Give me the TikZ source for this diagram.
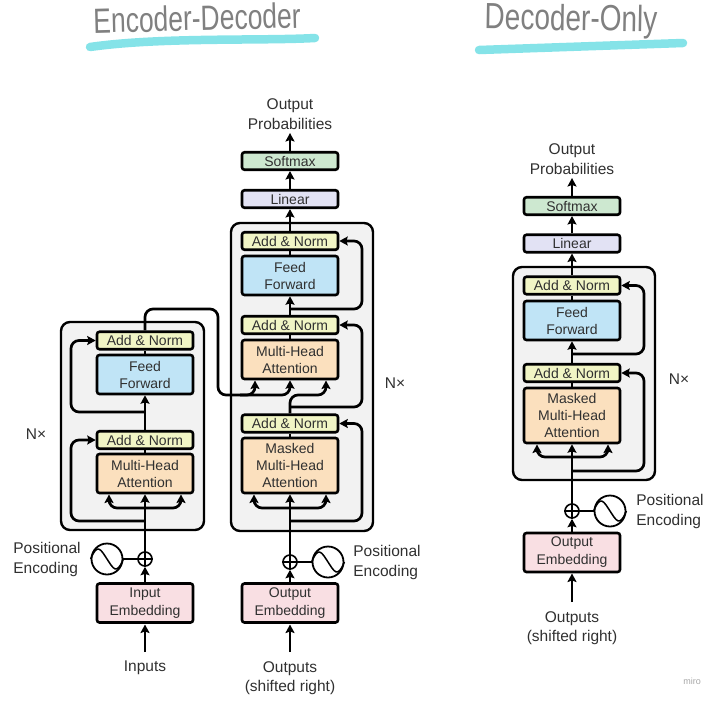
\documentclass[tikz,border=0pt]{standalone}
\usepackage{fontspec}
\setmainfont{Liberation Sans}
\usetikzlibrary{arrows.meta}
\definecolor{cAdd}{HTML}{F1F5C5}
\definecolor{cFF}{HTML}{C0E4F6}
\definecolor{cAtt}{HTML}{FBE0BE}
\definecolor{cEmb}{HTML}{F9DFE3}
\definecolor{cLin}{HTML}{E2E2F4}
\definecolor{cSoft}{HTML}{CDE8D0}
\definecolor{cBlock}{HTML}{F2F2F2}
\definecolor{cInk}{HTML}{303030}
\definecolor{cCyan}{HTML}{85E3E8}
\definecolor{cHand}{HTML}{808080}
\tikzset{
  x=1pt,y=-1pt,
  block/.style={draw=black,fill=cBlock,line width=2.4pt,rounded corners=9pt,inner sep=0pt},
  box/.style={draw=black,line width=2.6pt,rounded corners=2.5pt,minimum width=96pt,inner sep=0pt,
    text=cInk,align=center,font=\fontsize{14}{17}\selectfont},
  addn/.style={box,fill=cAdd,minimum height=17.5pt},
  ffw/.style={box,fill=cFF,minimum height=39pt},
  att/.style={box,fill=cAtt,minimum height=39pt},
  matt/.style={box,fill=cAtt,minimum height=55pt},
  emb/.style={box,fill=cEmb,minimum height=39pt,font=\fontsize{14}{18}\selectfont},
  lin/.style={box,fill=cLin,minimum height=17.5pt},
  soft/.style={box,fill=cSoft,minimum height=17.5pt},
  lab/.style={text=cInk,align=center,inner sep=0pt,font=\fontsize{15.5}{19.5}\selectfont},
  labl/.style={text=cInk,align=left,inner sep=0pt,font=\fontsize{15.5}{20}\selectfont},
  nx/.style={text=cInk,inner sep=0pt,font=\fontsize{15.5}{19}\selectfont},
  sinec/.style={circle,draw=black,line width=1.8pt,minimum size=31pt,inner sep=0pt},
  plusc/.style={circle,draw=black,line width=1.6pt,minimum size=14pt,inner sep=0pt},
  conn/.style={draw=black,line width=2.7pt},
  arr/.style={conn,-{Stealth[length=8.5pt,width=9pt,inset=1.5pt]}},
  res/.style={rounded corners=8pt},
  under/.style={draw=cCyan,line width=8.5pt,line cap=round},
  hand/.style={text=cHand,inner sep=0pt},
}
\newcommand{\sinewave}[1]{\draw[line width=1.5pt] (#1.west) .. controls +(7,-17) and +(-6,-9) .. (#1.center) .. controls +(6,9) and +(-7,17) .. (#1.east);}
\newcommand{\pluscross}[1]{\draw[line width=1.2pt] (#1.north) -- (#1.south) (#1.west) -- (#1.east);}
\begin{document}
\begin{tikzpicture}
\useasboundingbox (0,0) rectangle (720,702);
% titles
\node[hand,rotate=1.5] (t1) at (197,18) {\fontsize{27}{27}\selectfont\scalebox{0.98}[1.3]{Encoder-Decoder}};
\node[hand,rotate=-1] (t2) at (571,21) {\fontsize{28}{28}\selectfont\scalebox{1}[1.3]{Decoder-Only}};
\coordinate (u1a) at (90,47); \coordinate (u1b) at (160,37); \coordinate (u1c) at (260,41); \coordinate (u1d) at (315,38);
\draw[under] (u1a) .. controls (u1b) and (u1c) .. (u1d);
\coordinate (u2a) at (479,50); \coordinate (u2b) at (683,43);
\draw[under] (u2a) -- (u2b);
\node[text=black!35,inner sep=0pt,font=\fontsize{9}{9}\selectfont] (miro) at (692,681) {miro};

% blocks
\node[block,minimum width=143pt,minimum height=208pt] (eb) at (132.5,426) {};
\node[block,minimum width=142pt,minimum height=308pt] (db) at (302,377) {};
\node[block,minimum width=142pt,minimum height=213pt] (ob) at (584,373.5) {};

% encoder
\node[addn] (ea2) at (145,340.5) {Add \& Norm};
\node[ffw] (eff) at (145,374.5) {Feed\\Forward};
\node[addn] (ea1) at (145,440) {Add \& Norm};
\node[att] (eat) at (145,473.5) {Multi-Head\\Attention};
\node[plusc] (ep) at (145,559) {};
\node[sinec] (es) at (107,559) {};
\node[emb] (eem) at (145,603) {Input\\Embedding};
\node[lab] (ein) at (145,668) {Inputs};
\node[labl] (epe) at (47,559) {Positional\\Encoding};
\node[nx] (enx) at (36,434) {N×};

% decoder
\node[addn] (da3) at (290,241) {Add \& Norm};
\node[ffw] (dff) at (290,275.5) {Feed\\Forward};
\node[addn] (da2) at (290,325) {Add \& Norm};
\node[att] (dat) at (290,359.5) {Multi-Head\\Attention};
\node[addn] (da1) at (290,423.5) {Add \& Norm};
\node[matt] (dma) at (290,465.5) {Masked\\Multi-Head\\Attention};
\node[lin] (dli) at (290,199) {Linear};
\node[soft] (dso) at (290,161) {Softmax};
\node[lab] (dout) at (290,114) {Output\\Probabilities};
\node[plusc] (dp) at (290,562) {};
\node[sinec] (ds) at (328,562) {};
\node[emb] (dem) at (290,603) {Output\\Embedding};
\node[lab] (din) at (290,678) {Outputs\\(shifted right)};
\node[labl] (dpe) at (387,562.5) {Positional\\Encoding};
\node[nx] (dnx) at (395,383) {N×};

% decoder-only
\node[addn] (oa2) at (572,285.5) {Add \& Norm};
\node[ffw] (off) at (572,320.5) {Feed\\Forward};
\node[addn] (oa1) at (572,373) {Add \& Norm};
\node[matt] (oma) at (572,415.5) {Masked\\Multi-Head\\Attention};
\node[lin] (oli) at (572,243.5) {Linear};
\node[soft] (oso) at (572,206) {Softmax};
\node[lab] (oout) at (572,159) {Output\\Probabilities};
\node[plusc] (op) at (572,511) {};
\node[sinec] (os) at (610,511) {};
\node[emb] (oem) at (572,552.5) {Output\\Embedding};
\node[lab] (oin) at (572,628) {Outputs\\(shifted right)};
\node[labl] (ope) at (670,511.5) {Positional\\Encoding};
\node[nx] (onx) at (679,379) {N×};

% sine waves and plus signs
\sinewave{es}\sinewave{ds}\sinewave{os}
\pluscross{ep}\pluscross{dp}\pluscross{op}

% --- encoder connectors
\coordinate (einf) at (145,652); \coordinate (eint) at (145,624.5);
\draw[arr] (einf) -- (eint);
\draw[arr] (eem.north) -- (ep.south);
\draw[conn] (es.east) -- (ep.west);
\draw[arr] (ep.north) -- (eat.south);
\draw[conn] (eat.north) -- (ea1.south);
\draw[arr] (ea1.north) -- (eff.south);
\draw[conn] (eff.north) -- (ea2.south);
\coordinate (er1) at (145,521); \coordinate (er1c) at (71,521);
\draw[arr,res] (er1) -- (er1c) |- (ea1.west);
\coordinate (er2) at (145,412); \coordinate (er2c) at (71,412);
\draw[arr,res] (er2) -- (er2c) |- (ea2.west);
\coordinate (ef) at (145,508); \coordinate (efl) at (109,494.5); \coordinate (efr) at (181,494.5);
\draw[arr,res] (ef) -| (efl);
\draw[arr,res] (ef) -| (efr);
% encoder to decoder
\coordinate (x1) at (145,309); \coordinate (x2) at (218,309); \coordinate (x3) at (218,395);
\coordinate (x4) at (290,395); \coordinate (x5) at (255,395); \coordinate (x5b) at (240,395);
\coordinate (x6) at (255,380.5); \coordinate (x7) at (326,380.5);
\draw[arr,res] (ea2.north) -- (x1) -- (x2) -- (x3) -- (x4) -- (dat.south);
\draw[arr,res] (x5b) -- (x5) -- (x6);
\draw[arr,res] (da1.north) -- (x4) -| (x7);

% --- decoder connectors
\coordinate (dinf) at (290,652); \coordinate (dint) at (290,624.5);
\draw[arr] (dinf) -- (dint);
\draw[arr] (dem.north) -- (dp.south);
\draw[conn] (ds.west) -- (dp.east);
\draw[arr] (dp.north) -- (dma.south);
\draw[conn] (dma.north) -- (da1.south);
\draw[conn] (dat.north) -- (da2.south);
\draw[arr] (da2.north) -- (dff.south);
\draw[conn] (dff.north) -- (da3.south);
\draw[arr] (da3.north) -- (dli.south);
\draw[arr] (dli.north) -- (dso.south);
\coordinate (dtop) at (290,133);
\draw[arr] (dso.north) -- (dtop);
\coordinate (dr1) at (290,521); \coordinate (dr1c) at (362,521);
\draw[arr,res] (dr1) -- (dr1c) |- (da1.east);
\coordinate (dr2) at (290,407); \coordinate (dr2c) at (362,407);
\draw[arr,res] (dr2) -- (dr2c) |- (da2.east);
\coordinate (dr3) at (290,309); \coordinate (dr3c) at (362,309);
\draw[arr,res] (dr3) -- (dr3c) |- (da3.east);
\coordinate (df) at (290,508); \coordinate (dfl) at (254,494.5); \coordinate (dfr) at (326,494.5);
\draw[arr,res] (df) -| (dfl);
\draw[arr,res] (df) -| (dfr);

% --- decoder-only connectors
\coordinate (oinf) at (572,602); \coordinate (oint) at (572,573.5);
\draw[arr] (oinf) -- (oint);
\draw[arr] (oem.north) -- (op.south);
\draw[conn] (os.west) -- (op.east);
\draw[arr] (op.north) -- (oma.south);
\draw[conn] (oma.north) -- (oa1.south);
\draw[arr] (oa1.north) -- (off.south);
\draw[conn] (off.north) -- (oa2.south);
\draw[arr] (oa2.north) -- (oli.south);
\draw[arr] (oli.north) -- (oso.south);
\coordinate (otop) at (572,178);
\draw[arr] (oso.north) -- (otop);
\coordinate (or1) at (572,471); \coordinate (or1c) at (644,471);
\draw[arr,res] (or1) -- (or1c) |- (oa1.east);
\coordinate (or2) at (572,354); \coordinate (or2c) at (644,354);
\draw[arr,res] (or2) -- (or2c) |- (oa2.east);
\coordinate (of) at (572,457); \coordinate (ofl) at (537,444.5); \coordinate (ofr) at (608,444.5);
\draw[arr,res] (of) -| (ofl);
\draw[arr,res] (of) -| (ofr);
\end{tikzpicture}
\end{document}
